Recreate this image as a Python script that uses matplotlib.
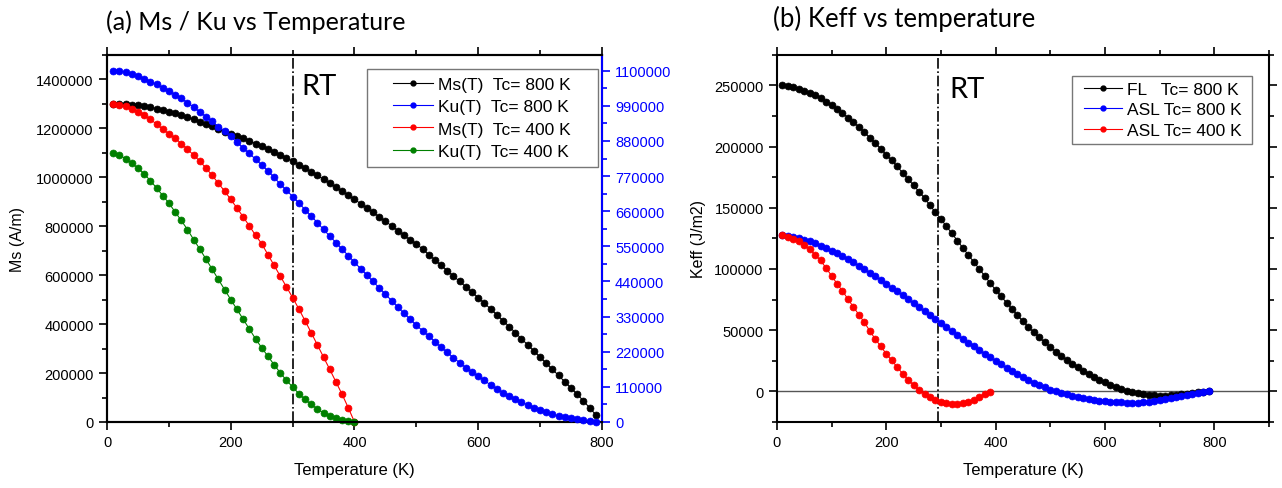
import matplotlib
matplotlib.use('Agg')
import matplotlib.pyplot as plt
from matplotlib.ticker import MultipleLocator
from matplotlib.lines import Line2D
from matplotlib.legend_handler import HandlerLine2D

plt.rcParams['font.family'] = ['Liberation Sans', 'DejaVu Sans']

# Temperature grids (K)
T_800 = list(range(10, 800, 10))
T_400 = list(range(10, 410, 10))
T_400k = list(range(10, 400, 10))

# (a) Ms / Ku vs temperature
ms_800 = [1300000, 1299000, 1298000, 1296000, 1293000, 1289000, 1285000, 1280000, 1274000, 1268000,
          1261000, 1253000, 1245000, 1236000, 1227000, 1217000, 1207000, 1196000, 1186000, 1177000,
          1170000, 1159000, 1148000, 1137000, 1126000, 1114000, 1102000, 1090000, 1078000, 1065000,
          1051000, 1037000, 1022000, 1007000, 991000, 975000, 958000, 943000, 926000, 909000,
          892000, 874000, 856000, 838000, 820000, 801000, 782000, 763000, 744000, 728000,
          706000, 684000, 662000, 640000, 618000, 596000, 574000, 552000, 530000, 508000,
          485000, 462000, 438000, 414000, 390000, 365000, 340000, 315000, 290000, 265000,
          240000, 215000, 190000, 164000, 139000, 113000, 87000, 58000, 30000]
ku_800 = [1100000, 1099000, 1095000, 1091000, 1083000, 1075000, 1066000, 1057000, 1047000, 1037000,
          1025000, 1013000, 1000000, 986000, 971000, 956000, 941000, 925000, 910000, 894000,
          876000, 858000, 841000, 823000, 805000, 786000, 766000, 745000, 726000, 706000,
          686000, 665000, 645000, 624000, 603000, 582000, 562000, 541000, 521000, 500000,
          480000, 460000, 440000, 420000, 400000, 380000, 360000, 340000, 322000, 303000,
          286000, 269000, 252000, 234000, 218000, 201000, 186000, 170000, 156000, 143000,
          130000, 116000, 104000, 92000, 82000, 72000, 62000, 53000, 45000, 37000,
          30000, 24000, 19000, 15000, 11000, 8000, 5000, 3000, 1000]
ms_400 = [1300000, 1296000, 1289000, 1280000, 1268000, 1253000, 1236000, 1217000, 1196000, 1177000,
          1159000, 1137000, 1114000, 1090000, 1065000, 1037000, 1007000, 975000, 943000, 909000,
          874000, 838000, 801000, 763000, 728000, 684000, 640000, 596000, 552000, 508000,
          462000, 414000, 365000, 315000, 265000, 215000, 164000, 113000, 58000, 0]
ku_400 = [1099000, 1091000, 1075000, 1057000, 1037000, 1013000, 986000, 956000, 925000, 894000,
          858000, 823000, 786000, 745000, 706000, 665000, 624000, 582000, 541000, 500000,
          460000, 420000, 380000, 340000, 303000, 269000, 234000, 201000, 170000, 143000,
          116000, 92000, 72000, 53000, 37000, 24000, 15000, 8000, 3000, 0]

# (b) Keff vs temperature
keff_fl = [250000, 249400, 248600, 247300, 245600, 244000, 241800, 239400, 236600, 233600,
           230700, 227400, 223600, 219800, 216000, 211600, 207200, 202900, 198200, 193300,
           188700, 183800, 178600, 173400, 168300, 163100, 157900, 152000, 146200, 140800,
           134900, 129100, 123200, 117300, 111500, 105800, 100100, 94400, 88600, 82900,
           77700, 72500, 67400, 62200, 57200, 52600, 48200, 44100, 40000, 36200,
           32400, 29100, 25900, 22600, 19600, 16900, 14100, 11700, 9500, 7300,
           5400, 3500, 1900, 300, -800, -1600, -2500, -3000, -3300, -3600,
           -3600, -3300, -3000, -2500, -1900, -1400, -800, -300, 0]
keff_asl_800 = [127400, 126900, 126300, 125200, 123900, 122500, 120900, 119000, 117100, 114900,
                112700, 110300, 107800, 105400, 102600, 99900, 96900, 94000, 90900, 87900,
                84600, 81700, 78400, 75200, 71900, 68600, 65400, 62100, 58800, 55600,
                52500, 49300, 46000, 43000, 39700, 36800, 33700, 30700, 27800, 25000,
                22000, 19200, 16600, 14000, 11500, 9200, 7000, 5000, 3200, 1500,
                0, -1300, -2500, -3600, -4600, -5500, -6300, -7000, -7600, -8100,
                -8500, -8800, -9000, -9200, -9200, -9200, -8900, -8500, -8000, -7300,
                -6500, -5700, -4900, -4100, -3300, -2500, -1600, -800, 0]
keff_asl_400 = [127400, 126300, 124700, 122500, 119500, 116000, 111600, 107000, 100700, 94500,
                87900, 82000, 75400, 68900, 62600, 56400, 49300, 42700, 36800, 30700,
                25300, 19900, 14400, 9500, 5100, 1300, -1900, -4400, -6900, -8500,
                -9600, -10100, -10100, -9600, -8500, -6900, -4600, -1900, -800]

RT = 300

fig = plt.figure(figsize=(12.82, 4.89), dpi=100)
ax1 = fig.add_axes([0.0835, 0.135, 0.386, 0.751])
ax2 = fig.add_axes([0.606, 0.135, 0.3838, 0.751])


def series(ax, x, y, color):
    ax.plot(x, y, '-o', color=color, lw=0.8, ms=5, mfc=color,
            mec=color, mew=0.5, clip_on=False, zorder=3)


def style(ax):
    for s in ax.spines.values():
        s.set_linewidth(1.5)
    ax.tick_params(which='both', direction='out', width=1.2, labelsize=10.5,
                   top=True, right=True)
    ax.tick_params(which='major', length=6)
    ax.tick_params(which='minor', length=3.5)
    ax.ticklabel_format(style='plain', axis='y', useOffset=False)


# ---- panel (a)
style(ax1)
ax1r = ax1.twinx()
series(ax1, T_800, ms_800, 'black')
series(ax1r, T_800, ku_800, 'blue')
series(ax1, T_400, ms_400, 'red')
series(ax1, T_400, ku_400, 'green')
ax1.axvline(RT, color='black', lw=1.2, ls='-.', zorder=2)
ax1.text(RT + 14, 1425000, 'RT', fontsize=21, family='Lato', va='top', ha='left')

ax1.set_xlim(0, 800)
ax1.set_ylim(0, 1500000)
ax1.xaxis.set_major_locator(MultipleLocator(200))
ax1.xaxis.set_minor_locator(MultipleLocator(100))
ax1.yaxis.set_major_locator(MultipleLocator(200000))
ax1.yaxis.set_minor_locator(MultipleLocator(100000))
ax1.tick_params(right=False, which='both')
ax1.set_xlabel('Temperature (K)', fontsize=12, labelpad=9)
ax1.set_ylabel('Ms (A/m)', fontsize=11.5, labelpad=8)

ax1r.set_ylim(0, 1150000)
ax1r.yaxis.set_major_locator(MultipleLocator(110000))
ax1r.yaxis.set_minor_locator(MultipleLocator(55000))
ax1r.tick_params(which='both', direction='out', width=1.2, colors='blue', labelsize=10.5)
ax1r.tick_params(which='major', length=6)
ax1r.tick_params(which='minor', length=3.5)
ax1r.ticklabel_format(style='plain', axis='y', useOffset=False)
for s in ax1r.spines.values():
    s.set_linewidth(1.5)
ax1r.spines['right'].set_color('blue')

handles = [Line2D([], [], color=c, lw=0.8, marker='o', ms=3.5) for c in ['black', 'blue', 'red', 'green']]
labels_a = ['Ms(T)  Tc= 800 K', 'Ku(T)  Tc= 800 K', 'Ms(T)  Tc= 400 K', 'Ku(T)  Tc= 400 K']
leg = ax1r.legend(handles, labels_a, loc='upper left', bbox_to_anchor=(0.525, 0, 0.467, 0.962),
                  mode='expand', borderaxespad=0, fontsize=12.5, fancybox=False,
                  edgecolor='#555555', handlelength=3.35, labelspacing=0.42, borderpad=0.45,
                  handletextpad=0.3, handler_map={Line2D: HandlerLine2D(xpad=1.05)})
leg.get_frame().set_linewidth(1.0)

fig.text(0.083, 0.955, '(a) Ms / Ku vs Temperature', fontsize=18, family='Lato', va='center')

# ---- panel (b)
style(ax2)
series(ax2, T_800, keff_fl, 'black')
series(ax2, T_800, keff_asl_800, 'blue')
series(ax2, T_400k, keff_asl_400, 'red')
ax2.axhline(0, color='#555555', lw=1.0, zorder=1)
ax2.axvline(RT - 5, color='black', lw=1.2, ls='-.', zorder=2)
ax2.text(RT + 15, 258000, 'RT', fontsize=21, family='Lato', va='top', ha='left')

ax2.set_xlim(0, 900)
ax2.set_ylim(-25000, 275000)
ax2.xaxis.set_major_locator(MultipleLocator(200))
ax2.xaxis.set_minor_locator(MultipleLocator(100))
ax2.yaxis.set_major_locator(MultipleLocator(50000))
ax2.yaxis.set_minor_locator(MultipleLocator(25000))
ax2.set_xticks([0, 200, 400, 600, 800])
ax2.set_xlabel('Temperature (K)', fontsize=12, labelpad=9)
ax2.set_ylabel('Keff (J/m2)', fontsize=11.5, labelpad=6)

handles_b = [Line2D([], [], color=c, lw=0.8, marker='o', ms=3.5) for c in ['black', 'blue', 'red']]
leg2 = ax2.legend(handles_b, ['FL   Tc= 800 K', 'ASL Tc= 800 K', 'ASL Tc= 400 K'],
                  loc='upper left', bbox_to_anchor=(0.5996, 0, 0.366, 0.943), mode='expand',
                  borderaxespad=0, fontsize=12.5, fancybox=False, edgecolor='#555555',
                  handlelength=2.55, labelspacing=0.3, borderpad=0.35, handletextpad=0.3,
                  handler_map={Line2D: HandlerLine2D(xpad=0.35)})
leg2.get_frame().set_linewidth(1.0)

fig.text(0.603, 0.962, '(b) Keff vs temperature', fontsize=18.5, family='Lato', va='center')

fig.savefig('out.png', dpi=100)
